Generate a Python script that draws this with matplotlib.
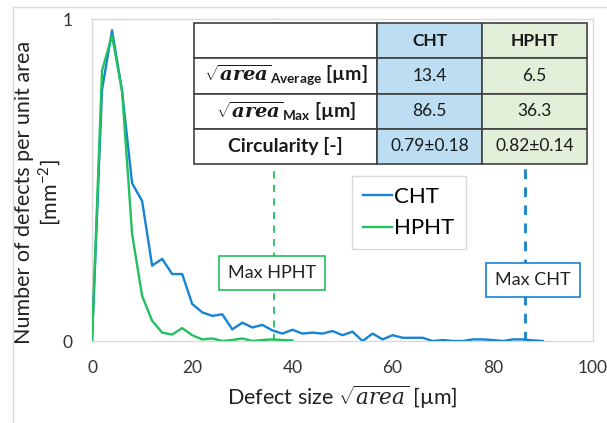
import matplotlib
matplotlib.use('Agg')
import matplotlib.pyplot as plt
from matplotlib.lines import Line2D

plt.rcParams['font.family'] = ['Lato', 'DejaVu Sans']
plt.rcParams['mathtext.fontset'] = 'custom'
plt.rcParams['mathtext.rm'] = 'Lato'
plt.rcParams['mathtext.it'] = 'DejaVu Serif:italic'
plt.rcParams['mathtext.bf'] = 'Lato:bold'
plt.rcParams['mathtext.bfit'] = 'DejaVu Serif:italic:bold'

# defect size classes [um]
size_cht = list(range(0, 92, 2))
cht = [0, 0.78, 0.965, 0.776, 0.49, 0.435, 0.234, 0.255, 0.208, 0.208,
       0.115, 0.089, 0.078, 0.083, 0.036, 0.057, 0.042, 0.05, 0.033, 0.023,
       0.035, 0.023, 0.026, 0.023, 0.031, 0.018, 0.029, 0.0, 0.023, 0.005,
       0.018, 0.01, 0.01, 0.01, 0.0, 0.003, 0.0, 0.0, 0.005, 0.005,
       0.003, 0.0, 0.005, 0.005, 0.002, 0.0]
size_hpht = list(range(0, 42, 2))
hpht = [0, 0.84, 0.948, 0.776, 0.333, 0.14, 0.063, 0.026, 0.02, 0.04,
        0.018, 0.005, 0.008, 0.0, 0.003, 0.008, 0.0, 0.003, 0.005, 0.003, 0.002]

max_cht = 86.5
max_hpht = 36.3

row_labels = [r'$\sqrt{\mathbfit{area}}_{\mathbf{Average}}$ [µm]',
              r'$\sqrt{\mathbfit{area}}_{\mathbf{Max}}$ [µm]',
              'Circularity [-]']
col_labels = ['CHT', 'HPHT']
cht_vals = ['13.4', '86.5', '0.79±0.18']
hpht_vals = ['6.5', '36.3', '0.82±0.14']

blue = '#1683D3'
green = '#22C05E'
grey = '#D9D9D9'

fig = plt.figure(figsize=(6.07, 4.23), dpi=100)
ax = fig.add_axes([92/607, 82/423, 501/607, 322/423])

ax.plot(size_cht, cht, color=blue, lw=1.7, label='CHT', zorder=3)
ax.plot(size_hpht, hpht, color=green, lw=1.7, label='HPHT', zorder=3)
ax.axvline(max_hpht, color=green, lw=1.3, ls=(0, (4, 3.5)), zorder=2)
ax.axvline(max_cht, color=blue, lw=2.0, ls=(0, (3.5, 3)), zorder=2)

ax.text(36.0, 0.21, 'Max HPHT', ha='center', va='center', fontsize=13,
        color='#222222', zorder=4,
        bbox=dict(boxstyle='square,pad=0.5', fc='white', ec=green, lw=1.2))
ax.text(88.0, 0.188, 'Max CHT', ha='center', va='center', fontsize=13,
        color='#222222', zorder=4,
        bbox=dict(boxstyle='square,pad=0.5', fc='white', ec=blue, lw=1.2))

ax.set_xlim(0, 100)
ax.set_ylim(0, 1)
ax.set_xticks([0, 20, 40, 60, 80, 100])
ax.set_yticks([0, 1])
ax.tick_params(length=0, labelsize=12.5, colors='#333333', pad=14)
for s in ax.spines.values():
    s.set_color(grey)
    s.set_linewidth(1.0)

ax.set_xlabel(r'Defect size $\sqrt{area}$ [µm]', fontsize=15.5, color='#222222', labelpad=5)
ax.set_ylabel('Number of defects per unit area\n[mm$^{-2}$]', fontsize=15.5,
              color='#222222', linespacing=1.15)
ax.yaxis.set_label_coords(-0.057, 0.46)

leg = ax.legend(loc='upper left', bbox_to_anchor=(0.519, 0.512), borderaxespad=0,
                fontsize=16, handlelength=1.3, handletextpad=0.1, fancybox=False,
                edgecolor=grey, framealpha=1, borderpad=0.5, labelspacing=0.5)
leg.get_frame().set_linewidth(1.0)

cell_text = [[''] + col_labels]
for lab, c, h in zip(row_labels, cht_vals, hpht_vals):
    cell_text.append([lab, c, h])
colours = [['white', '#BDDDF3', '#E2F0DA'] for _ in cell_text]
tab = ax.table(cellText=cell_text, cellColours=colours, cellLoc='center',
               colWidths=[183, 105, 105], bbox=[0.204, 0.55, 0.784, 0.437], zorder=5)
tab.auto_set_font_size(False)
for (r, c), cell in tab.get_celld().items():
    cell.set_edgecolor('#404040')
    cell.set_linewidth(1.2)
    t = cell.get_text()
    t.set_fontsize(12.5)
    t.set_color('#1a1a1a')
    if r == 0 or c == 0:
        t.set_fontweight('bold')
    if c == 0:
        t.set_fontsize(14)

# outer chart frame
fig.add_artist(Line2D([13/607, 13/607], [0, 1 - 7/423], color=grey, lw=1.0))
fig.add_artist(Line2D([13/607, 1], [1 - 7/423, 1 - 7/423], color=grey, lw=1.0))

fig.savefig('out.png', dpi=100, facecolor='white')
